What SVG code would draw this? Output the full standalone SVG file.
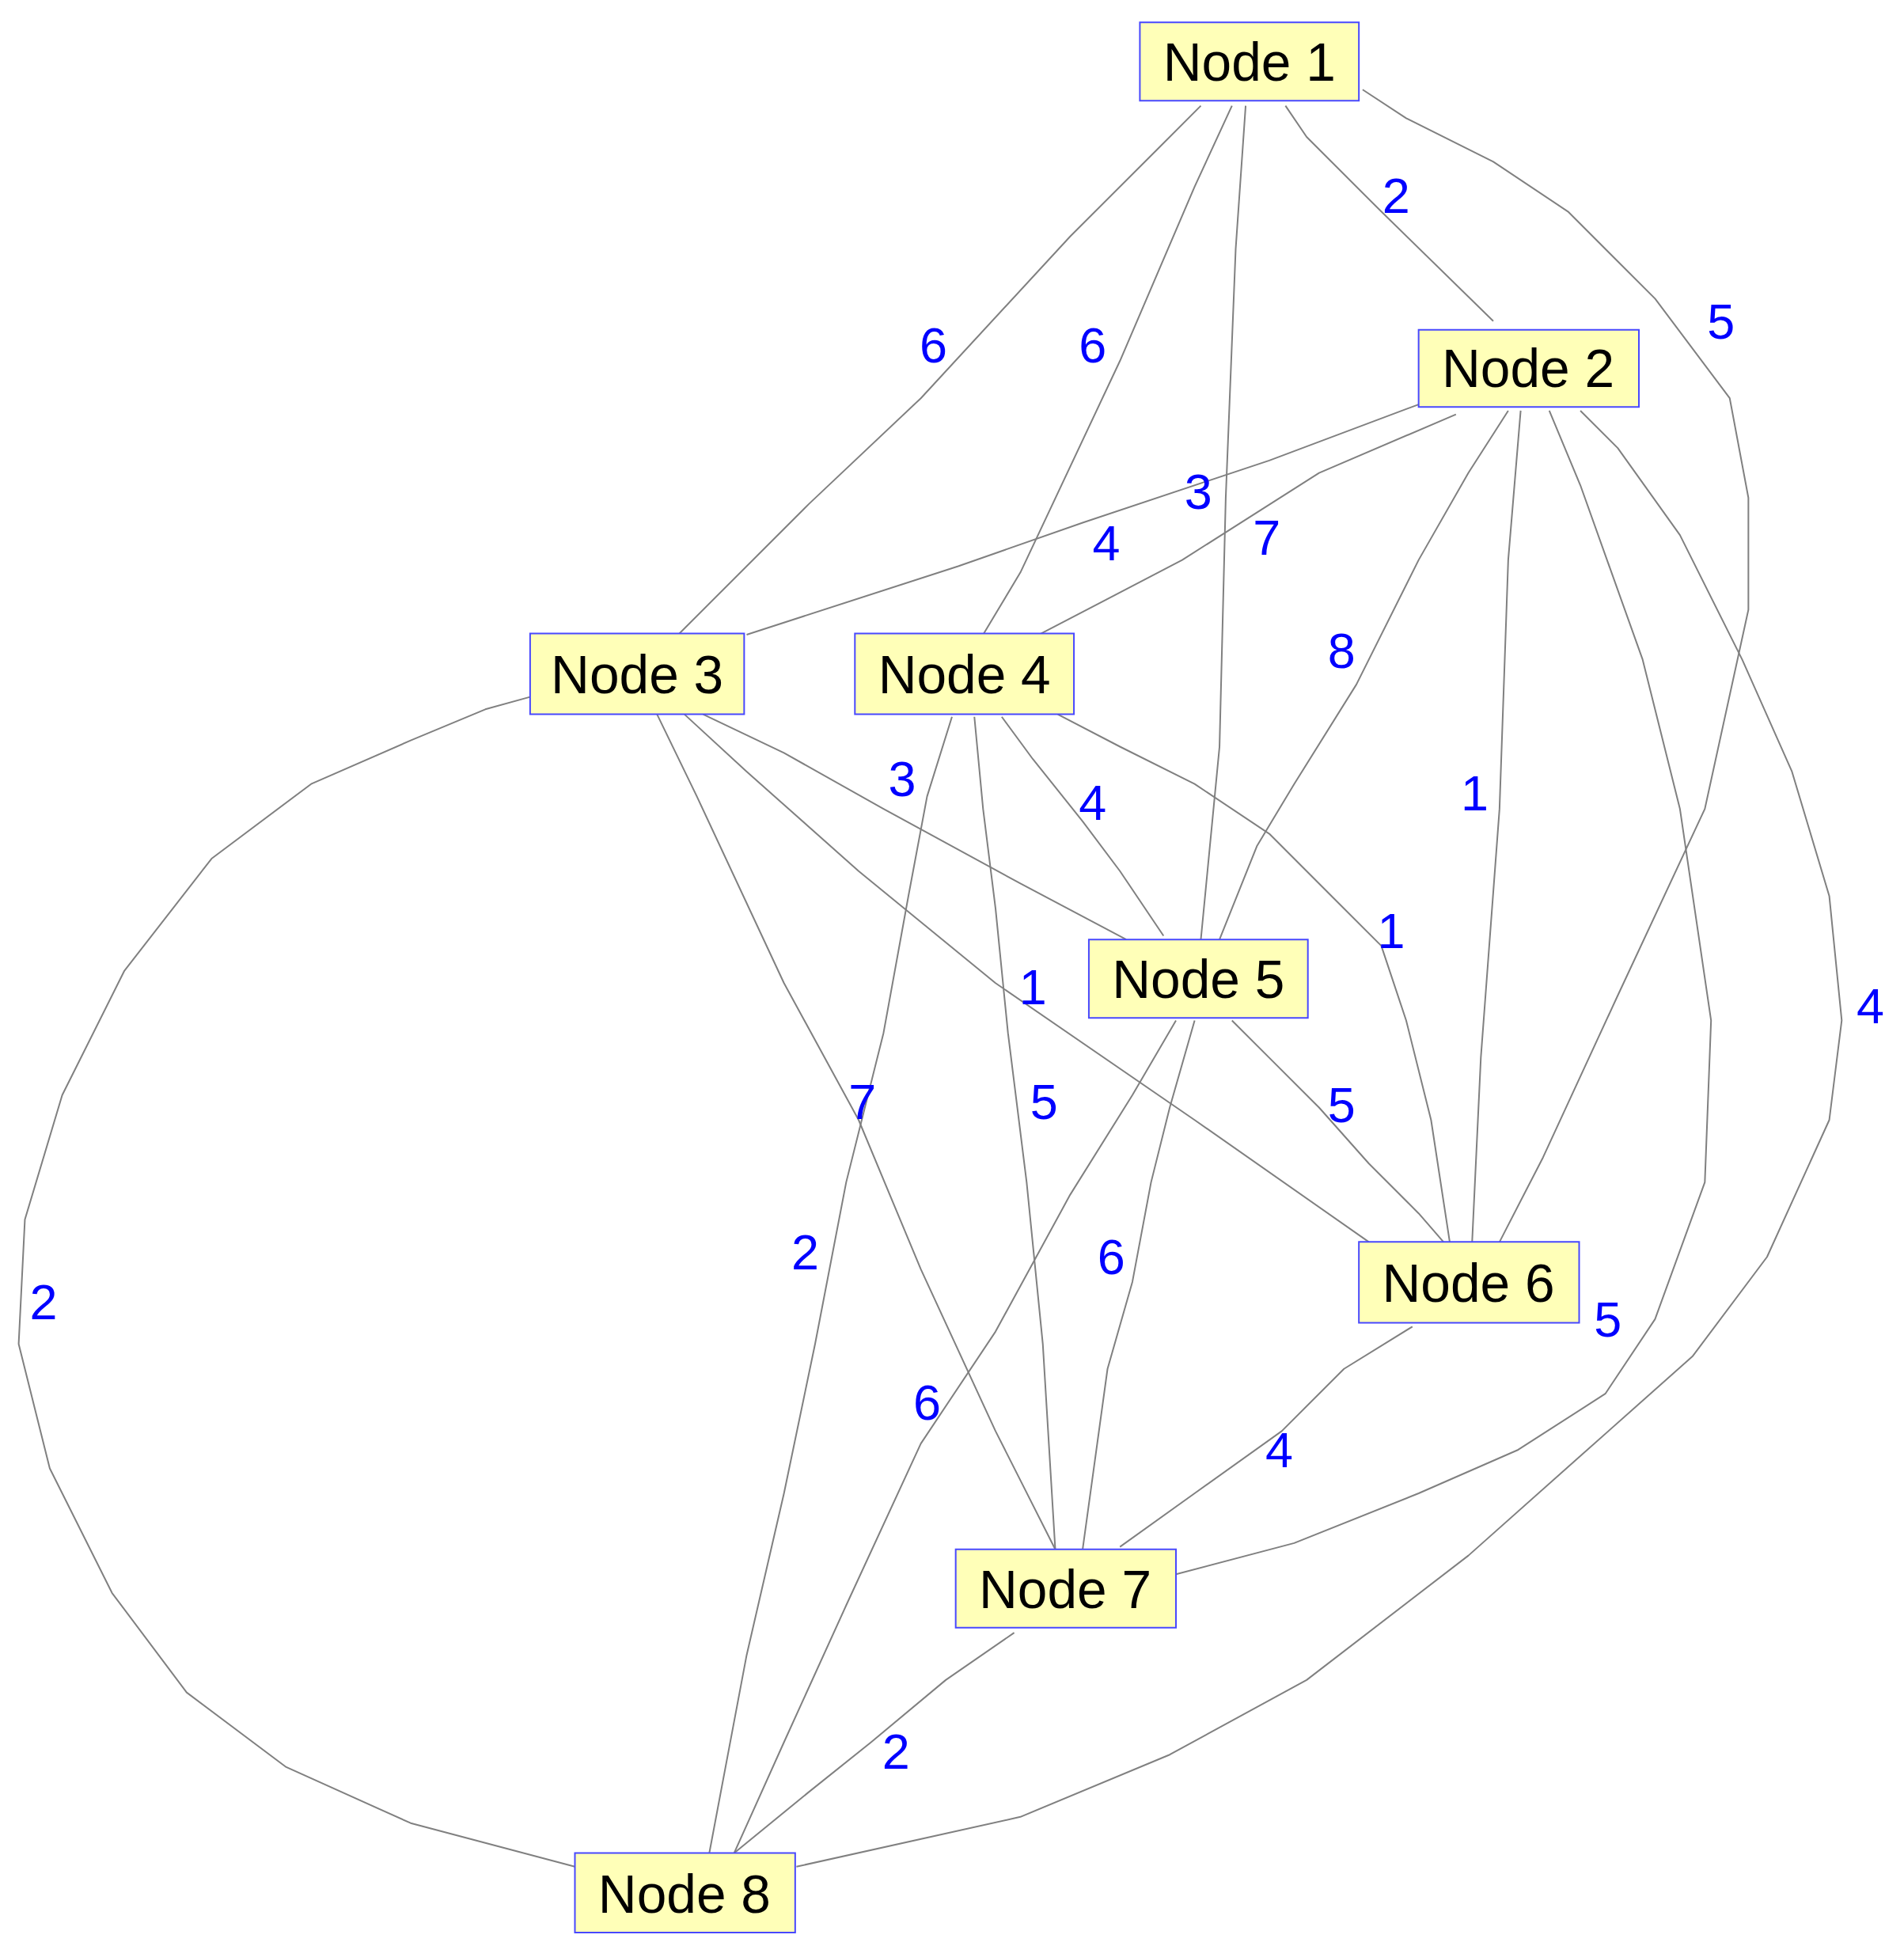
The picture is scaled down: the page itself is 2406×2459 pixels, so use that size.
<svg xmlns="http://www.w3.org/2000/svg" width="2406" height="2459" viewBox="0 0 2406 2459">
<style>
.e{fill:none;stroke:#808080;stroke-width:2;vector-effect:non-scaling-stroke;stroke-linejoin:round}
.n rect{fill:#ffffb8;stroke:#4848ff;stroke-width:2;vector-effect:non-scaling-stroke}
.n text{font-family:"Liberation Sans",Arial,sans-serif;font-size:43px;fill:#000;text-anchor:middle}
.l{font-family:"Liberation Sans",Arial,sans-serif;font-size:40px;fill:#0000ff;text-anchor:middle}
</style>
<rect width="2406" height="2459" fill="#fff"/>
<g transform="scale(1.5725)">
<g id="connectors">
<polyline class="e" points="965,85 930,120 860,190 740,320 650,405 545,510"/>
<polyline class="e" points="990,85 960,150 900,290 820,460 790,510"/>
<polyline class="e" points="1001,85 993,200 985,400 980,600 965,755"/>
<polyline class="e" points="1033,85 1050,110 1110,170 1200,258"/>
<polyline class="e" points="1095,72 1130,95 1200,130 1260,170 1330,240 1390,320 1405,400 1405,490 1370,650 1300,800 1240,930 1205,998"/>
<polyline class="e" points="1140,325 1020,370 870,420 770,455 600,510"/>
<polyline class="e" points="1170,333 1060,380 950,450 835,510"/>
<polyline class="e" points="1212,330 1180,380 1140,450 1090,550 1040,630 1010,680 980,755"/>
<polyline class="e" points="1222,330 1212,450 1205,650 1190,850 1183,998"/>
<polyline class="e" points="1245,330 1270,390 1320,530 1350,650 1375,820 1370,950 1330,1060 1290,1120 1220,1165 1140,1200 1040,1240 945,1265"/>
<polyline class="e" points="1270,330 1300,360 1350,430 1400,530 1440,620 1470,720 1480,820 1470,900 1420,1010 1360,1090 1270,1170 1180,1250 1050,1350 940,1410 820,1460 640,1500"/>
<polyline class="e" points="528,574 560,640 630,790 690,900 740,1020 800,1150 848,1245"/>
<polyline class="e" points="565,574 630,605 710,650 820,710 905,755"/>
<polyline class="e" points="550,574 600,620 690,700 800,790 960,900 1100,998"/>
<polyline class="e" points="426,560 390,570 330,595 250,630 170,690 100,780 50,880 20,980 15,1080 40,1180 90,1280 150,1360 230,1420 330,1465 462,1500"/>
<polyline class="e" points="805,576 830,610 870,660 900,700 935,752"/>
<polyline class="e" points="850,574 900,600 960,630 1020,670 1070,720 1110,760 1130,820 1150,900 1165,998"/>
<polyline class="e" points="783,576 790,650 800,730 810,830 825,950 838,1080 848,1245"/>
<polyline class="e" points="765,576 745,640 730,720 710,830 680,950 655,1080 630,1200 600,1330 570,1489"/>
<polyline class="e" points="945,820 910,880 860,960 800,1070 740,1160 680,1290 630,1400 590,1489"/>
<polyline class="e" points="960,820 940,890 925,950 910,1030 890,1100 870,1245"/>
<polyline class="e" points="990,820 1020,850 1060,890 1100,935 1140,975 1160,998"/>
<polyline class="e" points="1135,1066 1080,1100 1030,1150 960,1200 900,1243"/>
<polyline class="e" points="815,1312 760,1350 700,1400 650,1440 590,1489"/>
</g>
<g id="labels">
<text class="l" x="750" y="291">6</text>
<text class="l" x="878" y="291">6</text>
<text class="l" x="963" y="409">3</text>
<text class="l" x="1122" y="171">2</text>
<text class="l" x="1383" y="272">5</text>
<text class="l" x="889" y="450">4</text>
<text class="l" x="1018" y="446">7</text>
<text class="l" x="1078" y="537">8</text>
<text class="l" x="1185" y="651">1</text>
<text class="l" x="1292" y="1074">5</text>
<text class="l" x="1503" y="822">4</text>
<text class="l" x="693" y="899">7</text>
<text class="l" x="725" y="640">3</text>
<text class="l" x="830" y="807">1</text>
<text class="l" x="35" y="1060">2</text>
<text class="l" x="878" y="659">4</text>
<text class="l" x="1118" y="762">1</text>
<text class="l" x="839" y="899">5</text>
<text class="l" x="647" y="1020">2</text>
<text class="l" x="745" y="1141">6</text>
<text class="l" x="893" y="1024">6</text>
<text class="l" x="1078" y="902">5</text>
<text class="l" x="1028" y="1179">4</text>
<text class="l" x="720" y="1421">2</text>
</g>
<g id="node1" class="n"><rect x="916" y="18" width="176" height="63"/><text x="1004" y="65">Node 1</text></g>
<g id="node2" class="n"><rect x="1140" y="265" width="177" height="62"/><text x="1228" y="311">Node 2</text></g>
<g id="node3" class="n"><rect x="426" y="509" width="172" height="65"/><text x="512" y="557">Node 3</text></g>
<g id="node4" class="n"><rect x="687" y="509" width="176" height="65"/><text x="775" y="557">Node 4</text></g>
<g id="node5" class="n"><rect x="875" y="755" width="176" height="63"/><text x="963" y="802">Node 5</text></g>
<g id="node6" class="n"><rect x="1092" y="998" width="177" height="65"/><text x="1180" y="1046">Node 6</text></g>
<g id="node7" class="n"><rect x="768" y="1245" width="177" height="63"/><text x="856" y="1292">Node 7</text></g>
<g id="node8" class="n"><rect x="462" y="1489" width="177" height="64"/><text x="550" y="1537">Node 8</text></g>
</g>
</svg>
